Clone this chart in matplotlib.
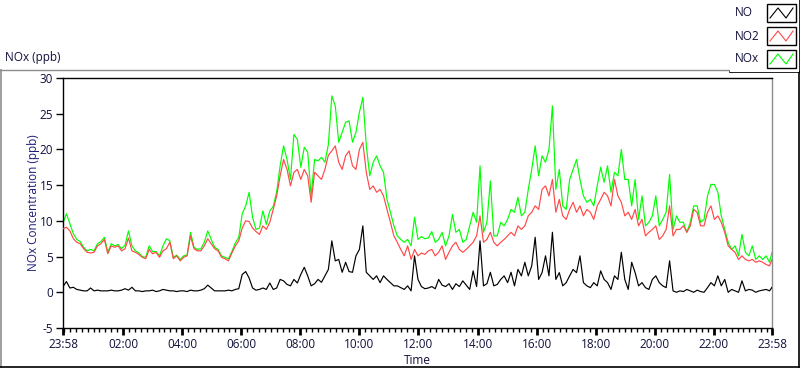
import numpy as np
import matplotlib
matplotlib.use('Agg')
import matplotlib.pyplot as plt
from matplotlib.lines import Line2D
from matplotlib.patches import Rectangle

# ---------------- data (minutes after 23:58) ----------------
minutes = np.append(np.arange(0, 1436, 7), 1440)

no2 = [8.9, 9.1, 8.6, 7.5, 7.0, 6.8, 6.1, 5.6, 5.5, 5.6,
       6.5, 6.8, 7.4, 5.4, 6.5, 6.3, 6.5, 5.8, 6.1, 7.6,
       5.8, 5.6, 5.3, 4.9, 4.7, 6.0, 5.4, 5.6, 4.9, 5.8,
       6.1, 7.0, 4.7, 5.1, 4.4, 4.9, 5.1, 7.9, 6.1, 5.8,
       5.8, 6.5, 7.5, 6.8, 6.1, 5.8, 4.9, 4.7, 4.4, 5.5,
       6.5, 7.2,
       9.0, 10.0, 9.9, 9.0, 8.5, 8.1, 9.3, 8.8, 9.8, 11.6,
       13.5, 16.3, 18.6, 17.2, 14.9, 16.8, 17.2, 15.8, 17.2, 16.3,
       12.6, 16.8, 16.3, 15.8, 17.2, 19.2, 19.8, 20.5, 18.2, 17.2,
       19.1, 19.8, 17.7, 17.2, 20.0, 21.0, 16.8, 14.4, 14.9, 14.0,
       14.4, 13.5, 11.6, 9.8, 7.9, 7.0, 6.0, 5.1, 6.5, 4.6,
       6.0, 5.1,
       5.5, 5.3, 5.8, 6.0, 5.1, 5.6, 6.5, 4.6, 5.6, 6.5,
       7.0, 6.0, 5.6, 6.0, 6.5, 7.0, 7.9, 10.7, 7.0, 7.4,
       8.4, 7.0, 6.5, 7.0, 7.4, 7.9, 8.4, 7.9, 9.3, 8.8,
       9.3, 10.7, 11.2, 12.1, 11.6, 14.4, 14.9, 13.5, 15.8, 11.2,
       13.0, 10.7, 10.2, 11.6, 12.6, 11.2, 12.1,
       10.7, 11.6, 11.2, 10.2, 12.1, 13.0, 14.0, 13.5, 12.1, 15.8,
       13.5, 12.6, 10.7, 11.2, 10.2, 11.6, 9.3, 10.2, 7.9, 8.4,
       8.8, 9.3, 7.4, 7.9, 8.8, 12.1, 7.9, 8.8, 8.8, 9.3,
       8.4, 9.3, 11.6, 11.2, 9.3, 9.3, 11.2, 12.1, 10.2, 10.7,
       9.8, 8.4, 6.5, 6.0, 5.6, 4.6, 5.1, 4.6, 4.4, 4.6,
       4.2, 4.4, 4.2, 3.9, 3.7, 4.6]

nox = [9.7, 11.0, 9.6, 8.2, 7.4, 7.1, 6.3, 5.8, 6.0, 5.8,
       6.8, 7.1, 7.7, 5.6, 6.8, 6.5, 6.7, 6.1, 6.6, 8.6,
       6.5, 5.8, 5.5, 5.0, 4.9, 6.5, 5.7, 5.7, 5.1, 6.5,
       7.5, 7.2, 4.9, 5.2, 4.6, 5.1, 5.2, 8.4, 6.3, 6.0,
       6.1, 7.0, 8.6, 7.4, 6.3, 6.0, 5.1, 4.9, 4.7, 5.7,
       6.9, 7.7,
       11.0, 12.1, 14.0, 10.5, 8.8, 9.0, 11.4, 9.5, 11.4, 12.0,
       14.1, 17.7, 20.5, 18.6, 15.8, 22.1, 21.4, 17.5, 20.3, 19.6,
       13.5, 18.6, 18.4, 18.9, 18.2, 20.7, 27.5, 26.1, 21.0, 22.4,
       23.8, 24.0, 21.0, 22.4, 25.2, 27.3, 20.5, 16.3, 18.2, 19.1,
       17.7, 16.8, 13.0, 11.2, 9.3, 7.9, 7.4, 7.0, 7.4, 6.5,
       10.5, 7.4,
       7.8, 7.5, 7.6, 8.5, 7.0, 7.4, 8.4, 6.5, 7.9, 10.9,
       8.4, 8.8, 7.0, 7.4, 9.3, 11.2, 9.8, 17.7, 8.4, 9.8,
       15.6, 7.9, 7.9, 9.8, 9.3, 10.2, 11.6, 11.2, 13.3, 10.7,
       11.2, 14.4, 17.2, 20.5, 16.3, 19.1, 18.2, 20.0, 26.1, 14.4,
       17.2, 12.1, 11.6, 15.8, 17.2, 18.6, 15.8,
       13.5, 12.6, 13.0, 12.1, 14.9, 17.5, 15.4, 17.7, 14.0, 16.8,
       16.3, 20.0, 15.8, 15.8, 12.1, 15.8, 10.2, 13.5, 9.3, 9.8,
       10.7, 13.5, 9.3, 10.2, 11.2, 16.5, 8.8, 10.7, 9.8, 9.8,
       8.4, 9.8, 12.1, 12.1, 9.8, 10.2, 13.5, 15.1, 15.1, 14.0,
       10.7, 8.8, 7.0, 6.0, 6.5, 5.1, 8.1, 5.6, 5.1, 6.5,
       4.6, 5.1, 4.6, 5.1, 4.2, 5.6]

no = [0.8, 1.5, 0.6, 0.7, 0.4, 0.3, 0.2, 0.2, 0.6, 0.2,
      0.3, 0.2, 0.2, 0.2, 0.3, 0.2, 0.2, 0.3, 0.5, 0.3,
      0.7, 0.2, 0.2, 0.1, 0.2, 0.2, 0.3, 0.1, 0.2, 0.4,
      0.3, 0.2, 0.2, 0.1, 0.2, 0.2, 0.1, 0.3, 0.2, 0.2,
      0.3, 0.5, 1.0, 0.6, 0.2, 0.2, 0.2, 0.2, 0.3, 0.2,
      0.4, 0.5,
      2.5, 2.9, 2.0, 0.6, 0.3, 0.4, 0.6, 0.4, 1.3, 0.4,
      0.6, 1.8, 1.6, 1.1, 0.9, 1.8, 1.3, 2.5, 3.5, 2.3,
      0.9, 1.2, 1.8, 1.4, 2.3, 3.2, 7.2, 4.4, 4.6, 2.8,
      4.2, 2.9, 2.8, 5.1, 6.0, 9.3, 2.8, 2.3, 1.8, 2.3,
      1.35, 2.3, 1.8, 1.35, 0.9, 0.9, 0.65, 0.4, 0.9, 0.2,
      5.1, 1.8,
      0.8, 0.5, 0.6, 0.8, 0.5, 1.8, 1.0, 0.8, 1.2, 0.4,
      1.2, 0.8, 1.6, 1.0, 0.4, 3.0, 0.8, 7.2, 0.9, 1.2,
      2.8, 0.9, 1.1, 1.8, 2.3, 1.35, 2.8, 0.9, 3.2, 2.3,
      4.2, 2.3, 3.7, 7.7, 1.8, 2.75, 5.1, 2.3, 8.4, 1.8,
      2.75, 0.9, 1.35, 2.3, 3.2, 2.75, 5.1,
      1.35, 0.9, 0.65, 1.35, 0.9, 3.0, 1.8, 1.35, 0.4, 2.3,
      1.8, 5.6, 1.8, 0.4, 4.2, 2.75, 0.9, 1.35, 0.65, 0.4,
      1.8, 2.3, 1.35, 0.9, 0.65, 4.4, 0.2, 0.0, 0.2, 0.1,
      0.4, 0.2, 0.0, 0.3, 0.1, 0.0, 0.65, 1.35, 0.9, 2.3,
      0.9, 1.8, 0.0, 0.4, 0.2, 0.0, 1.6, 0.2, 0.4, 0.3,
      0.0, 0.2, 0.3, 0.4, 0.2, 0.7]

series_names = ['NO', 'NO2', 'NOx']
series_colors = ['#000000', '#ff4848', '#00ff00']
tick_labels = ['23:58', '02:00', '04:00', '06:00', '08:00', '10:00', '12:00',
               '14:00', '16:00', '18:00', '20:00', '22:00', '23:58']
y_ticks = [-5, 0, 5, 10, 15, 20, 25, 30]

start_min = 23 * 60 + 58
tick_pos = []
for i, lab in enumerate(tick_labels):
    h, m = map(int, lab.split(':'))
    v = (h * 60 + m - start_min) % 1440
    if i == len(tick_labels) - 1:
        v = 1440
    tick_pos.append(v)

# ---------------- figure ----------------
W, H = 800, 369
plt.rcParams['font.family'] = ['Open Sans', 'DejaVu Sans']
fig = plt.figure(figsize=(W / 100, H / 100), dpi=100)
fig.patch.set_facecolor('white')

def fx(x):
    return x / W

def fy(y):
    return 1 - y / H

ax = fig.add_axes([fx(63), fy(328), (772 - 63) / W, (328 - 78) / H])
ax.set_facecolor('white')

lw = 0.85
ax.plot(minutes, nox, color=series_colors[2], lw=lw, zorder=2)
ax.plot(minutes, no2, color=series_colors[1], lw=lw, zorder=3)
ax.plot(minutes, no, color=series_colors[0], lw=lw, zorder=4)

ax.set_xlim(0, 1440)
ax.set_ylim(-5, 30)
ax.set_yticks(y_ticks)
ax.set_yticklabels([str(v) for v in y_ticks])
ax.set_xticks(tick_pos)
ax.set_xticklabels(tick_labels)
ax.set_xticks(np.arange(2, 1440, 12), minor=True)

lab_col = '#10103c'
fs = 8.5
ax.tick_params(axis='y', direction='out', length=5, width=1, pad=2,
               labelsize=fs, labelcolor=lab_col)
ax.tick_params(axis='x', which='major', direction='out', length=5, width=2,
               pad=2, labelsize=fs, labelcolor=lab_col)
ax.tick_params(axis='x', which='minor', direction='out', length=3, width=1)

for s in ['left', 'bottom', 'top']:
    ax.spines[s].set_color('black')
    ax.spines[s].set_linewidth(1.0)
ax.spines['right'].set_color('#8c8c8c')
ax.spines['right'].set_linewidth(1.0)

ax.set_ylabel('NOx Concentration (ppb)', fontsize=fs, color='#1c1c78')
ax.yaxis.set_label_coords((40 - 63) / 709, 0.5)
ax.set_xlabel('Time', fontsize=fs, color=lab_col, labelpad=2)

# title above the plot
fig.text(fx(5), fy(58), 'NOx (ppb)', fontsize=fs, color='#10103c',
         ha='left', va='center')

# outer panel frame
def hline(x0, x1, y, color, lw=1.0):
    fig.add_artist(Line2D([fx(x0), fx(x1)], [fy(y), fy(y)], color=color, lw=lw,
                          transform=fig.transFigure))

def vline(x, y0, y1, color, lw=1.0):
    fig.add_artist(Line2D([fx(x), fx(x)], [fy(y0), fy(y1)], color=color, lw=lw,
                          transform=fig.transFigure))

hline(0, 730, 69.5, '#8c8c8c')
vline(0.7, 69.5, 367, '#8c8c8c', lw=1.2)
hline(0, 799, 367, 'black', lw=1.2)
vline(798.6, 72, 367, 'black', lw=1.2)

# legend box
fig.add_artist(Rectangle((fx(730), fy(72)), fx(69), 72 / H, facecolor='white',
                         edgecolor='none', transform=fig.transFigure, zorder=5))
vline(730.5, 0, 72, '#8c8c8c')
hline(730, 799, 71.5, 'black', lw=1.2)
vline(798.6, 0, 72, 'black', lw=1.2)

row_y = [13, 36, 59]
for name, col, yc in zip(series_names, series_colors, row_y):
    fig.text(fx(735), fy(yc), name, fontsize=fs, color='#10103c',
             ha='left', va='center', zorder=6)
    bx0, bx1 = 767, 796
    by0, by1 = yc - 9, yc + 9
    fig.add_artist(Rectangle((fx(bx0), fy(by1)), fx(bx1 - bx0), (by1 - by0) / H,
                             facecolor='white', edgecolor='black', lw=1.0,
                             transform=fig.transFigure, zorder=6))
    zx = [bx0 + 3, bx0 + 11, bx0 + 19, bx1 - 3]
    zy = [by1 - 4, by0 + 4, by1 - 4, by0 + 4]
    fig.add_artist(Line2D([fx(v) for v in zx], [fy(v) for v in zy], color=col,
                          lw=0.8, transform=fig.transFigure, zorder=7))

fig.savefig('out.png', dpi=100, facecolor='white')
